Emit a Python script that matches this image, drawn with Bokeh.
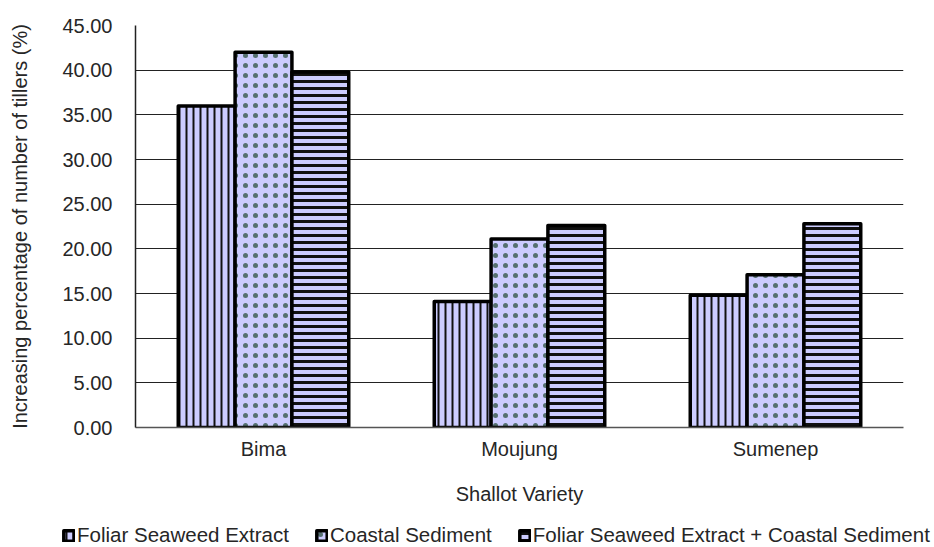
from bokeh.plotting import figure
from bokeh.models import (ColumnDataSource, FactorRange, Range1d, FixedTicker,
                          PrintfTickFormatter, Legend, LegendItem)
from bokeh.transform import dodge
from bokeh.embed import file_html
from bokeh.resources import INLINE

# ---- data ----
varieties = ["Bima", "Moujung", "Sumenep"]
foliar = [36.0, 14.1, 14.8]
coastal = [42.0, 21.1, 17.1]
combined = [39.8, 22.6, 22.8]
series_names = ["Foliar Seaweed Extract", "Coastal Sediment",
                "Foliar Seaweed Extract + Coastal Sediment"]
y_ticks = [0, 5, 10, 15, 20, 25, 30, 35, 40, 45]

FONT = "Liberation Sans"
TXT = "#262626"

src = ColumnDataSource(dict(variety=varieties, foliar=foliar,
                            coastal=coastal, combined=combined))

p = figure(width=934, height=515,
           x_range=FactorRange(factors=varieties),
           y_range=Range1d(0, 45),
           output_backend="svg", toolbar_location=None,
           min_border_left=135, min_border_right=31,
           min_border_top=25, min_border_bottom=88)

p.outline_line_color = None
p.background_fill_color = "white"
p.border_fill_color = "white"

styles = [
    dict(hatch_pattern="vertical_line", hatch_color="#111111", hatch_weight=2, hatch_scale=7),
    dict(hatch_pattern="dot", hatch_color="#557070", hatch_weight=1.4, hatch_scale=10),
    dict(hatch_pattern="horizontal_line", hatch_color="#111111", hatch_weight=3, hatch_scale=7),
]
bar_style = dict(fill_color="#CCCCFF", line_color="black", line_width=3.5, line_join="round")
cols = ["foliar", "coastal", "combined"]
offsets = [-0.222, 0.0, 0.222]

for col, off, st in zip(cols, offsets, styles):
    p.vbar(x=dodge("variety", off, range=p.x_range), top=col, width=0.222,
           source=src, **bar_style, **st)

# axes
p.yaxis.ticker = FixedTicker(ticks=y_ticks)
p.yaxis.formatter = PrintfTickFormatter(format="%.2f")
p.ygrid.ticker = FixedTicker(ticks=y_ticks)
p.ygrid.grid_line_color = "#222222"
p.ygrid.grid_line_width = 1
p.xgrid.visible = False

for ax in (p.xaxis[0], p.yaxis[0]):
    ax.major_tick_in = 0
    ax.major_tick_out = 0
    ax.minor_tick_in = 0
    ax.minor_tick_out = 0
    ax.major_label_text_font = FONT
    ax.major_label_text_font_size = "20px"
    ax.major_label_text_color = TXT
    ax.axis_label_text_font = FONT
    ax.axis_label_text_font_size = "20px"
    ax.axis_label_text_font_style = "normal"
    ax.axis_label_text_color = TXT

p.yaxis.axis_label = "Increasing percentage of number of tillers (%)"
p.yaxis.axis_line_color = "#222222"
p.yaxis.axis_line_width = 1.5
p.yaxis.major_label_standoff = 23
p.yaxis.axis_label_standoff = 28

p.xaxis.axis_label = "Shallot Variety"
p.xaxis.axis_line_color = "#555555"
p.xaxis.axis_line_width = 1.5
p.xaxis.major_label_standoff = 10
p.xaxis.axis_label_standoff = 20

# ---- legend strip below the chart (separate root, so its frame spans the width) ----
lp = figure(width=934, height=32, x_range=FactorRange(factors=varieties),
            y_range=Range1d(-2, -1),
            output_backend="svg", toolbar_location=None,
            x_axis_location=None, y_axis_location=None,
            min_border=0, min_border_left=0, min_border_right=0,
            min_border_top=0, min_border_bottom=0)
lp.outline_line_color = None
lp.grid.visible = False
# hidden copies of the bars: they only feed the legend glyphs
leg_renderers = []
for col, off, st in zip(cols, offsets, styles):
    r = lp.vbar(x=dodge("variety", off, range=lp.x_range), top=col, width=0.222,
                source=src, **bar_style, **st)
    r.visible = False
    leg_renderers.append(r)

legend = Legend(
    items=[LegendItem(label=n, renderers=[r]) for n, r in zip(series_names, leg_renderers)],
    orientation="horizontal", location=(62, 0),
    label_text_font=FONT, label_text_font_size="20.5px", label_text_color=TXT,
    glyph_width=13, glyph_height=13, label_standoff=2, spacing=26,
    padding=0, margin=0, border_line_color=None, background_fill_alpha=0,
    inactive_fill_alpha=0,
)
lp.add_layout(legend)

open("out.html", "w").write(file_html([p, lp], INLINE))
